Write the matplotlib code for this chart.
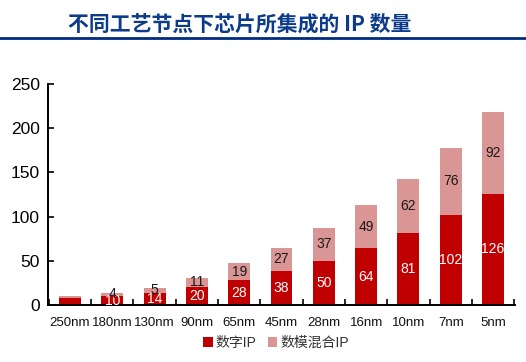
import matplotlib.pyplot as plt
import numpy as np

plt.rcParams['font.family'] = ['Liberation Sans', 'Noto Sans CJK SC']

nodes = ['250nm', '180nm', '130nm', '90nm', '65nm', '45nm', '28nm', '16nm', '10nm', '7nm', '5nm']
digital = [8, 10, 14, 20, 28, 38, 50, 64, 81, 102, 126]
mixed = [2, 4, 5, 11, 19, 27, 37, 49, 62, 76, 92]

red = '#C00000'
pink = '#D99694'

fig = plt.figure(figsize=(5.26, 3.62), dpi=100)
ax = fig.add_axes([48 / 526, 1 - 305 / 362, (515 - 48) / 526, (305 - 84) / 362])

x = np.arange(len(nodes))
b1 = ax.bar(x, digital, width=0.52, color=red, label='数字IP')
b2 = ax.bar(x, mixed, width=0.52, bottom=digital, color=pink, label='数模混合IP')

for i in range(1, len(nodes)):
    ax.text(x[i], digital[i] / 2, str(digital[i]), ha='center', va='center',
            color='white', fontsize=10)
    ax.text(x[i], digital[i] + mixed[i] / 2, str(mixed[i]), ha='center', va='center',
            color='#1a1a1a', fontsize=10)

ax.set_xlim(-0.52, len(nodes) - 0.48)
ax.set_ylim(0, 250)
ax.set_yticks([0, 50, 100, 150, 200, 250])
ax.tick_params(axis='y', direction='in', length=4, width=1.2, labelsize=12.5, pad=6)

ax.set_xticks(np.arange(-0.5, len(nodes), 1.0))
ax.set_xticklabels([])
ax.tick_params(axis='x', direction='in', length=4, width=1.2)
for i, n in enumerate(nodes):
    ax.text(x[i], -14, n, ha='center', va='top', fontsize=9.5, color='#111111')

for s in ['top', 'right']:
    ax.spines[s].set_visible(False)
for s in ['left', 'bottom']:
    ax.spines[s].set_linewidth(1.4)

fig.legend(handles=[b1, b2], loc='center', bbox_to_anchor=(276 / 526, 1 - 343 / 362),
           ncol=2, frameon=False, fontsize=10, handlelength=0.7, handleheight=0.7,
           handletextpad=0.2, columnspacing=0.8, labelcolor='#333333')

fig.text(240 / 526, 1 - 24 / 362, '不同工艺节点下芯片所集成的 IP 数量', ha='center', va='center',
         fontsize=15, fontweight='bold', color='#0D3B8C',
         family=['Noto Sans CJK SC', 'DejaVu Sans'])
fig.add_artist(plt.Line2D([0, 1], [1 - 38 / 362, 1 - 38 / 362], color='#002C80', lw=2))

fig.savefig('out.png', dpi=100)
